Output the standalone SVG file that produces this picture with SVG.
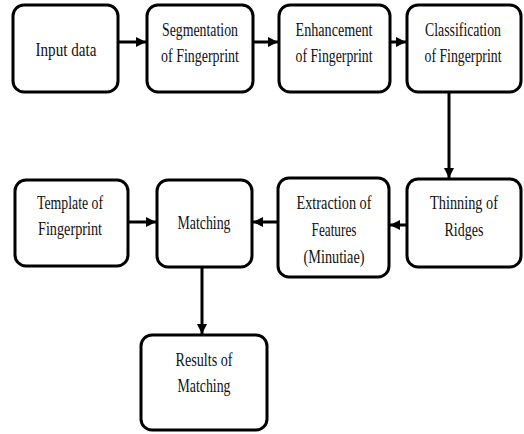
<svg xmlns="http://www.w3.org/2000/svg" width="524" height="434" viewBox="0 0 524 434">
  <style>
    .box { fill: #ffffff; stroke: #000000; stroke-width: 3; }
    .lbl { font-family: "Liberation Serif", "Times New Roman", "DejaVu Serif", serif; font-size: 18px; fill: #111111; text-anchor: middle; }
    .edge { stroke: #000000; stroke-width: 3; fill: none; }
  </style>
  <defs>
    <marker id="arrow" markerUnits="userSpaceOnUse" markerWidth="12" markerHeight="12" refX="10" refY="6" orient="auto">
      <path d="M0,1 L10,6 L0,11 Z" fill="#000000"/>
    </marker>
  </defs>
  <rect width="524" height="434" fill="#ffffff"/>

  <g id="connectors">
    <line class="edge" x1="118" y1="42" x2="146" y2="42" marker-end="url(#arrow)"/>
    <line class="edge" x1="253" y1="42" x2="278" y2="42" marker-end="url(#arrow)"/>
    <line class="edge" x1="390" y1="42" x2="406" y2="42" marker-end="url(#arrow)"/>
    <line class="edge" x1="449" y1="92" x2="449" y2="178" marker-end="url(#arrow)"/>
    <line class="edge" x1="407" y1="225" x2="390" y2="225" marker-end="url(#arrow)"/>
    <line class="edge" x1="278" y1="222" x2="253" y2="222" marker-end="url(#arrow)"/>
    <line class="edge" x1="128" y1="222" x2="156" y2="222" marker-end="url(#arrow)"/>
    <line class="edge" x1="202" y1="267" x2="202" y2="334" marker-end="url(#arrow)"/>
  </g>

  <g id="input-data">
    <rect class="box" x="13" y="5" width="105" height="87" rx="11"/>
    <text class="lbl" x="66" y="56" textLength="61" lengthAdjust="spacingAndGlyphs">Input data</text>
  </g>
  <g id="segmentation">
    <rect class="box" x="147" y="5" width="106" height="87" rx="11"/>
    <text class="lbl" x="200" y="36" textLength="76" lengthAdjust="spacingAndGlyphs">Segmentation</text>
    <text class="lbl" x="200" y="62" textLength="78" lengthAdjust="spacingAndGlyphs">of Fingerprint</text>
  </g>
  <g id="enhancement">
    <rect class="box" x="279" y="5" width="111" height="87" rx="11"/>
    <text class="lbl" x="334" y="36" textLength="77" lengthAdjust="spacingAndGlyphs">Enhancement</text>
    <text class="lbl" x="334" y="62" textLength="77" lengthAdjust="spacingAndGlyphs">of Fingerprint</text>
  </g>
  <g id="classification">
    <rect class="box" x="407" y="5" width="114" height="87" rx="11"/>
    <text class="lbl" x="463" y="36" textLength="76" lengthAdjust="spacingAndGlyphs">Classification</text>
    <text class="lbl" x="463" y="62" textLength="77" lengthAdjust="spacingAndGlyphs">of Fingerprint</text>
  </g>
  <g id="thinning">
    <rect class="box" x="407" y="179" width="114" height="88" rx="11"/>
    <text class="lbl" x="464" y="209" textLength="68" lengthAdjust="spacingAndGlyphs">Thinning of</text>
    <text class="lbl" x="464" y="236" textLength="39" lengthAdjust="spacingAndGlyphs">Ridges</text>
  </g>
  <g id="extraction">
    <rect class="box" x="278" y="178" width="111" height="99" rx="11"/>
    <text class="lbl" x="334" y="209" textLength="75" lengthAdjust="spacingAndGlyphs">Extraction of</text>
    <text class="lbl" x="334" y="236" textLength="45" lengthAdjust="spacingAndGlyphs">Features</text>
    <text class="lbl" x="334" y="263" textLength="61" lengthAdjust="spacingAndGlyphs">(Minutiae)</text>
  </g>
  <g id="matching">
    <rect class="box" x="157" y="180" width="95" height="87" rx="11"/>
    <text class="lbl" x="204" y="229" textLength="53" lengthAdjust="spacingAndGlyphs">Matching</text>
  </g>
  <g id="template">
    <rect class="box" x="15" y="180" width="113" height="86" rx="11"/>
    <text class="lbl" x="70" y="209" textLength="66" lengthAdjust="spacingAndGlyphs">Template of</text>
    <text class="lbl" x="70" y="235" textLength="64" lengthAdjust="spacingAndGlyphs">Fingerprint</text>
  </g>
  <g id="results">
    <rect class="box" x="141" y="335" width="126" height="95" rx="11"/>
    <text class="lbl" x="204" y="366" textLength="57" lengthAdjust="spacingAndGlyphs">Results of</text>
    <text class="lbl" x="204" y="392" textLength="53" lengthAdjust="spacingAndGlyphs">Matching</text>
  </g>
</svg>
